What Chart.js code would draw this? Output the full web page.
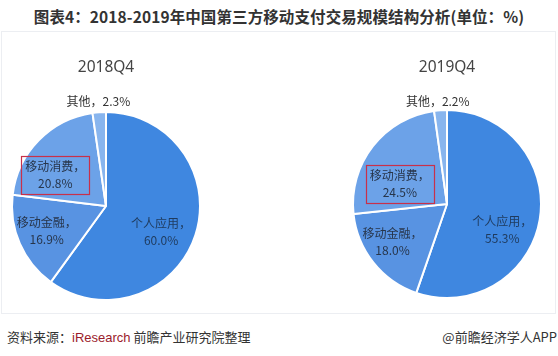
<!DOCTYPE html>
<html>
<head>
<meta charset="utf-8">
<script src="https://cdn.jsdelivr.net/npm/chart.js@4"></script>
<style>
  html, body { margin: 0; padding: 0; background: #fff; }
  body { width: 558px; height: 356px; position: relative; overflow: hidden;
         font-family: "Noto Sans CJK SC", "Noto Sans", sans-serif; }
  #title { position: absolute; left: 0; width: 558px; top: 5px; text-align: center;
           font-size: 15.5px; font-weight: bold; color: #333; line-height: 22px; letter-spacing: 0.1px; }
  #panel { position: absolute; left: 1px; top: 31px; width: 555px; height: 283px;
           border: 1px solid #eceef2; box-sizing: border-box; background: #fff; }
  canvas { position: absolute; }
  #c1 { left: 0; top: 40px; }
  #c2 { left: 279px; top: 40px; }
  #srcL { position: absolute; left: 7px; top: 327px; font-size: 13px; color: #333; line-height: 20px; }
  #srcL span { color: #9b1b2b; font-family: "Liberation Sans", Arial, sans-serif; }
  #srcR { position: absolute; right: 1px; top: 327px; font-size: 13px; color: #333; line-height: 20px; }
</style>
</head>
<body>
<div id="title">图表4：2018-2019年中国第三方移动支付交易规模结构分析(单位：%)</div>
<div id="panel"></div>
<canvas id="c1" width="279" height="274"></canvas>
<canvas id="c2" width="279" height="274"></canvas>
<div id="srcL">资料来源：<span>iResearch</span> 前瞻产业研究院整理</div>
<div id="srcR">@前瞻经济学人APP</div>
<script>
// ---- data ----
const categories = ["个人应用", "移动金融", "移动消费", "其他"];
const periods = ["2018Q4", "2019Q4"];
const values2018 = [60.0, 16.9, 20.8, 2.3];
const values2019 = [55.3, 18.0, 24.5, 2.2];

// ---- styles / layout ----
const sliceColors = ["#3f87e0", "#5893e2", "#6ca2e8", "#88b5ee"];
// label placement per slice: radial fraction and small nudges [dx, dy]
const labelLayout2018 = [[0.65, -3, 7], [0.70, 1, -1], [0.65, -7, 12], [1.12, 0, 0]];
const labelLayout2019 = [[0.65, -5, 16], [0.70, -3, -3], [0.65, 1, 18], [1.12, -2, 2]];
const boxedIndex = 2;

const labelPlugin = {
  id: 'sliceLabels',
  afterDatasetsDraw(chart, args, opts) {
    const ctx = chart.ctx;
    const meta = chart.getDatasetMeta(0);
    const vals = chart.data.datasets[0].data;
    const layout = opts.layout;
    ctx.save();
    ctx.font = '12px "Noto Sans CJK SC", "Noto Sans", sans-serif';
    ctx.textAlign = 'center';
    ctx.textBaseline = 'middle';
    meta.data.forEach((arc, i) => {
      const p = arc.getProps(['x', 'y', 'startAngle', 'endAngle', 'outerRadius'], true);
      const mid = (p.startAngle + p.endAngle) / 2;
      const [f, dx, dy] = layout[i];
      const cx = p.x + Math.cos(mid) * p.outerRadius * f + dx;
      const cy = p.y + Math.sin(mid) * p.outerRadius * f + dy;
      const name = chart.data.labels[i] + '，';
      const val = vals[i].toFixed(1) + '%';
      if (i === 3) {
        ctx.fillStyle = '#333';
        ctx.fillText(name + val, cx, cy);
      } else {
        ctx.fillStyle = i === 0 ? '#1f3a5c' : '#27354a';
        ctx.fillText(name, cx, cy - 8.5);
        ctx.fillText(val, cx, cy + 8.5);
        if (i === boxedIndex) {
          ctx.strokeStyle = '#c8304a';
          ctx.lineWidth = 1.2;
          ctx.strokeRect(Math.round(cx - 34) + 0.5, Math.round(cy - 19) + 0.5, 68, 38);
        }
      }
    });
    ctx.restore();
  }
};

function makePie(id, title, values, layout, padding) {
  return new Chart(document.getElementById(id), {
    type: 'pie',
    data: {
      labels: categories,
      datasets: [{
        data: values,
        backgroundColor: sliceColors,
        borderColor: '#ffffff',
        borderWidth: 2
      }]
    },
    options: {
      responsive: false,
      animation: false,
      layout: { padding: padding },
      plugins: {
        legend: { display: false },
        tooltip: { enabled: false },
        title: { display: false },
        sliceLabels: { layout: layout }
      }
    },
    plugins: [labelPlugin, {
      id: 'pieTitle',
      afterDraw(chart) {
        const ctx = chart.ctx;
        const meta = chart.getDatasetMeta(0);
        const a = meta.data[0];
        ctx.save();
        ctx.font = '15.5px "Noto Sans", "DejaVu Sans", sans-serif';
        ctx.fillStyle = '#444';
        ctx.textAlign = 'center';
        ctx.textBaseline = 'middle';
        ctx.fillText(title, a.x, 28);
        ctx.restore();
      }
    }]
  });
}

makePie('c1', periods[0], values2018, labelLayout2018, { left: 11, right: 78, top: 71, bottom: 13 });
makePie('c2', periods[1], values2019, labelLayout2019, { left: 73, right: 16, top: 69, bottom: 15 });
</script>
</body>
</html>
